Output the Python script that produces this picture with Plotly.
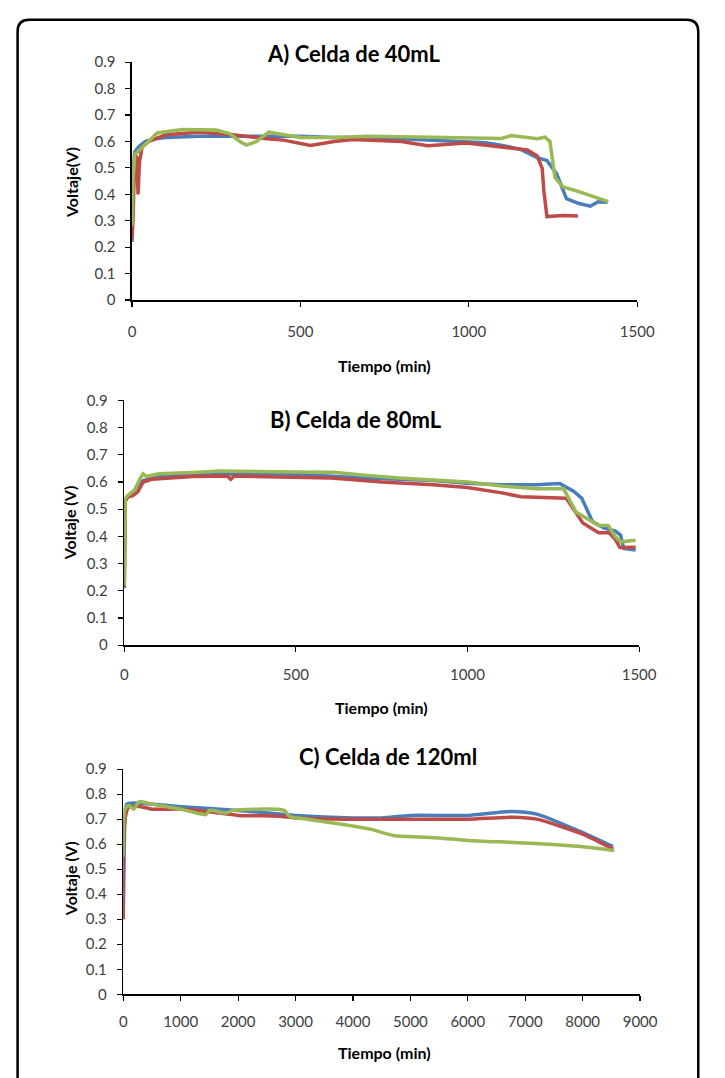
import plotly.graph_objects as go

# ---------------- Data ----------------
# Panel A: Celda de 40mL
a_blue_t = [0, 3, 8, 20, 40, 70, 100, 200, 300, 400, 500, 600, 700, 800, 900, 1000, 1050, 1100, 1154, 1203, 1232, 1261, 1290, 1327, 1361, 1384, 1412]
a_blue_v = [0.22, 0.45, 0.56, 0.58, 0.60, 0.61, 0.615, 0.62, 0.62, 0.62, 0.62, 0.615, 0.615, 0.61, 0.605, 0.60, 0.595, 0.585, 0.57, 0.539, 0.528, 0.477, 0.384, 0.365, 0.355, 0.372, 0.37]

a_red_t = [0, 3, 8, 14, 18, 22, 30, 50, 100, 200, 300, 330, 400, 450, 530, 600, 656, 800, 878, 993, 1117, 1174, 1203, 1218, 1223, 1232, 1280, 1324]
a_red_v = [0.23, 0.30, 0.55, 0.54, 0.40, 0.52, 0.58, 0.60, 0.625, 0.635, 0.625, 0.62, 0.61, 0.605, 0.585, 0.60, 0.607, 0.60, 0.584, 0.594, 0.574, 0.568, 0.545, 0.498, 0.411, 0.316, 0.32, 0.318]

a_green_t = [0, 3, 8, 20, 35, 50, 75, 150, 250, 290, 320, 340, 370, 406, 450, 500, 600, 700, 800, 900, 1000, 1097, 1126, 1203, 1226, 1241, 1256, 1280, 1327, 1375, 1414]
a_green_v = [0.28, 0.45, 0.55, 0.565, 0.585, 0.60, 0.632, 0.645, 0.643, 0.63, 0.60, 0.586, 0.60, 0.635, 0.625, 0.615, 0.615, 0.62, 0.618, 0.615, 0.613, 0.611, 0.622, 0.61, 0.616, 0.60, 0.463, 0.428, 0.41, 0.39, 0.372]

# Panel B: Celda de 80mL
b_blue_t = [0, 3, 10, 25, 40, 55, 70, 100, 200, 300, 400, 500, 600, 700, 800, 900, 1000, 1100, 1200, 1269, 1310, 1333, 1364, 1398, 1430, 1446, 1455, 1490]
b_blue_v = [0.21, 0.53, 0.545, 0.56, 0.59, 0.605, 0.61, 0.62, 0.628, 0.63, 0.63, 0.628, 0.62, 0.615, 0.61, 0.605, 0.595, 0.59, 0.59, 0.594, 0.565, 0.54, 0.455, 0.43, 0.42, 0.405, 0.356, 0.35]

b_red_t = [0, 3, 10, 25, 40, 55, 80, 200, 300, 310, 320, 500, 600, 650, 750, 900, 1000, 1100, 1155, 1288, 1310, 1336, 1382, 1412, 1430, 1444, 1490]
b_red_v = [0.21, 0.53, 0.545, 0.55, 0.565, 0.60, 0.61, 0.62, 0.622, 0.61, 0.622, 0.618, 0.615, 0.61, 0.60, 0.59, 0.58, 0.56, 0.546, 0.54, 0.50, 0.449, 0.413, 0.413, 0.39, 0.359, 0.36]

b_green_t = [0, 3, 10, 30, 45, 55, 65, 100, 200, 280, 500, 610, 700, 800, 1000, 1100, 1200, 1280, 1316, 1382, 1410, 1430, 1446, 1490]
b_green_v = [0.22, 0.54, 0.55, 0.57, 0.61, 0.63, 0.62, 0.63, 0.635, 0.64, 0.637, 0.636, 0.625, 0.615, 0.60, 0.585, 0.575, 0.575, 0.49, 0.44, 0.44, 0.40, 0.38, 0.386]

# Panel C: Celda de 120ml
c_blue_t = [0, 30, 60, 200, 1000, 2000, 3000, 4000, 4500, 5000, 6000, 6750, 7200, 8000, 8530]
c_blue_v = [0.30, 0.70, 0.76, 0.765, 0.75, 0.735, 0.715, 0.705, 0.705, 0.715, 0.715, 0.731, 0.72, 0.646, 0.59]

c_red_t = [0, 30, 100, 300, 500, 1000, 1500, 2000, 2700, 3000, 4000, 5000, 6000, 6800, 7200, 8000, 8530]
c_red_v = [0.30, 0.70, 0.75, 0.75, 0.74, 0.74, 0.73, 0.715, 0.712, 0.705, 0.70, 0.70, 0.70, 0.708, 0.70, 0.64, 0.58]

c_green_t = [0, 30, 100, 180, 280, 500, 1000, 1440, 1500, 1800, 1900, 2800, 2900, 3200, 3800, 4300, 4700, 5500, 6000, 7000, 8000, 8550]
c_green_v = [0.55, 0.74, 0.755, 0.74, 0.77, 0.76, 0.74, 0.718, 0.735, 0.725, 0.735, 0.735, 0.71, 0.70, 0.68, 0.66, 0.635, 0.625, 0.615, 0.605, 0.59, 0.575]

titles = ["A) Celda de 40mL", "B) Celda de 80mL", "C) Celda de 120ml"]
y_titles = ["Voltaje(V)", "Voltaje (V)", "Voltaje (V)"]
x_title = "Tiempo (min)"
x_ranges = [[0, 1500], [0, 1500], [0, 9000]]
x_dticks = [500, 500, 1000]

# ---------------- Figure ----------------
W, H = 725, 1078
BLUE, RED, GREEN = "#4A7EBB", "#BE4B48", "#98B954"
FONT = "Lato"

def px(x):
    return x / W

def py(y):
    return 1 - y / H

fig = go.Figure()

panels = [
    ((a_blue_t, a_blue_v), (a_red_t, a_red_v), (a_green_t, a_green_v)),
    ((b_blue_t, b_blue_v), (b_red_t, b_red_v), (b_green_t, b_green_v)),
    ((c_blue_t, c_blue_v), (c_red_t, c_red_v), (c_green_t, c_green_v)),
]
# pixel geometry: (x0, x1, y_bottom, y_top)
geo = [(132, 653, 295, 53), (124, 655, 646, 397), (123, 656, 1001, 772)]
x_standoff = [12, 10, 8]

for i, (series, g) in enumerate(zip(panels, geo)):
    xa = "x" if i == 0 else f"x{i+1}"
    ya = "y" if i == 0 else f"y{i+1}"
    shape = "spline" if i == 2 else "linear"
    for (t, v), col in zip(series, [BLUE, RED, GREEN]):
        fig.add_trace(go.Scatter(x=t, y=v, mode="lines", xaxis=xa, yaxis=ya,
                                 line=dict(color=col, width=3.5, shape=shape, smoothing=0.6),
                                 showlegend=False, hoverinfo="skip"))
    x0, x1, yb, yt = g
    axis_common = dict(showgrid=False, zeroline=False, showline=True, linecolor="black",
                       linewidth=1.6, ticks="outside", ticklen=5, tickcolor="black",
                       tickwidth=1.2, tickfont=dict(family=FONT, size=15, color="#404040"),
                       fixedrange=True)
    fig.update_layout(**{
        ("xaxis" if i == 0 else f"xaxis{i+1}"): dict(
            domain=[px(x0), px(x1)], range=x_ranges[i], dtick=x_dticks[i], tick0=0,
            anchor=ya, ticklabelstandoff=x_standoff[i], **axis_common),
        ("yaxis" if i == 0 else f"yaxis{i+1}"): dict(
            domain=[py(yb), py(yt)], range=[0, 0.9], dtick=0.1, tick0=0,
            anchor=xa, ticklabelstandoff=7, tickformat="~g", **axis_common),
    })

annotations = []
title_pos = [(360, 44), (363, 416), (396, 759)]
xt_pos = [(392, 362), (389, 709), (392, 1060)]
yt_pos = [(69, 175), (67, 521), (68, 883)]
for i in range(3):
    annotations.append(dict(x=px(title_pos[i][0]), y=py(title_pos[i][1]), xref="paper", yref="paper",
                            text=f"<b>{titles[i]}</b>", showarrow=False,
                            font=dict(family=FONT, size=22, color="black"),
                            xanchor="center", yanchor="middle"))
    annotations.append(dict(x=px(xt_pos[i][0]), y=py(xt_pos[i][1]), xref="paper", yref="paper",
                            text=f"<b>{x_title}</b>", showarrow=False,
                            font=dict(family=FONT, size=16, color="black"),
                            xanchor="center", yanchor="middle"))
    annotations.append(dict(x=px(yt_pos[i][0]), y=py(yt_pos[i][1]), xref="paper", yref="paper",
                            text=f"<b>{y_titles[i]}</b>", showarrow=False, textangle=-90,
                            font=dict(family=FONT, size=16, color="black"),
                            xanchor="center", yanchor="middle"))

# rounded border (open at the bottom)
L, R, T, Bm, r = 14, 716, 10, 1100, 12
path = (f"M {px(L)},{py(Bm)} L {px(L)},{py(T + r)} Q {px(L)},{py(T)} {px(L + r)},{py(T)} "
        f"L {px(R - r)},{py(T)} Q {px(R)},{py(T)} {px(R)},{py(T + r)} L {px(R)},{py(Bm)}")
fig.add_shape(type="path", path=path, xref="paper", yref="paper",
              line=dict(color="black", width=2.5))

fig.update_layout(width=W, height=H, margin=dict(l=0, r=0, t=0, b=0),
                  paper_bgcolor="white", plot_bgcolor="white",
                  annotations=annotations, showlegend=False)

post = (
    "var d=document.getElementById('{plot_id}');"
    "var de=document.documentElement, b=document.body;"
    "de.style.margin='0';de.style.padding='0';de.style.overflow='hidden';"
    "b.style.margin='0';b.style.padding='0';b.style.overflow='hidden';"
    "if(d){d.style.position='fixed';d.style.left='0px';d.style.top='0px';}"
)
fig.write_html("out.html", config={"displayModeBar": False, "staticPlot": True},
               post_script=post)
